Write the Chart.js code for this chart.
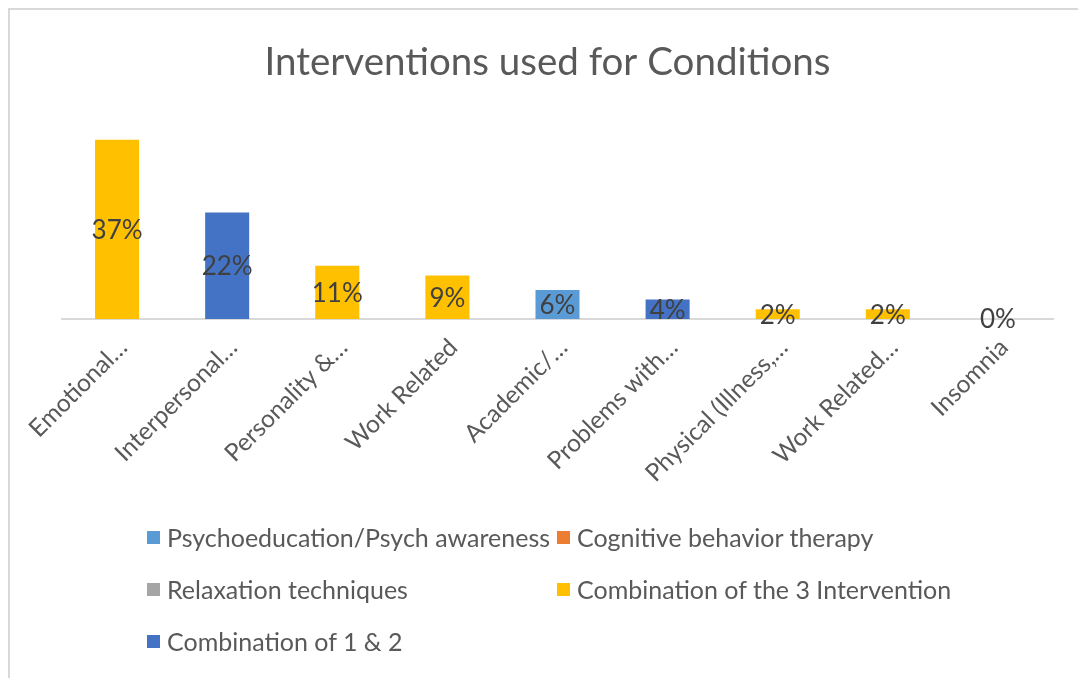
<!DOCTYPE html>
<html>
<head>
<meta charset="utf-8">
<script src="https://cdn.jsdelivr.net/npm/chart.js@4.4.1/dist/chart.umd.min.js"></script>
<style>
  html, body { margin: 0; padding: 0; background: #fff; }
  body { width: 1078px; height: 678px; position: relative; overflow: hidden; font-family: Lato, "Noto Sans", sans-serif; }
  #frame { position: absolute; left: 8px; top: 8px; width: 1090px; height: 700px; border: 2px solid #D9D9D9; box-sizing: border-box; }
  #wrap { position: absolute; left: 0; top: 0; width: 1078px; height: 500px; }
  #legend { position: absolute; left: 0; top: 0; width: 1078px; height: 678px; pointer-events: none; }
  .li { position: absolute; display: flex; align-items: center; font-size: 25px; color: #595959; white-space: nowrap; line-height: 1; }
  .sw { width: 13px; height: 13px; margin-right: 7px; flex: none; }
</style>
</head>
<body>
<div id="frame"></div>
<div id="wrap"><canvas id="c" width="1078" height="500"></canvas></div>
<div id="legend"></div>
<script>
// ---- data ----
const categories = ["Emotional…", "Interpersonal…", "Personality &…", "Work Related", "Academic/…", "Problems with…", "Physical (Illness,…", "Work Related…", "Insomnia"];
const seriesNames = ["Psychoeducation/Psych awareness", "Cognitive behavior therapy", "Relaxation techniques", "Combination of the 3 Intervention", "Combination of 1 & 2"];
const psychoeducation = [null, null, null, null, 6, null, null, null, null];
const cognitiveBehavior = [null, null, null, null, null, null, null, null, null];
const relaxation = [null, null, null, null, null, null, null, null, 0];
const combination3 = [37, null, 11, 9, null, null, 2, 2, null];
const combination12 = [null, 22, null, null, null, 4, null, null, null];
const seriesColors = ["#5B9BD5", "#ED7D31", "#A5A5A5", "#FFC000", "#4472C4"];
const yMax = 40;

const seriesData = [psychoeducation, cognitiveBehavior, relaxation, combination3, combination12];

const labelPlugin = {
  id: 'barLabels',
  afterDatasetsDraw(chart) {
    const ctx = chart.ctx;
    ctx.save();
    ctx.font = '26px Lato, "Noto Sans", sans-serif';
    ctx.fillStyle = '#404040';
    ctx.textAlign = 'center';
    ctx.textBaseline = 'middle';
    chart.data.datasets.forEach((ds, di) => {
      const meta = chart.getDatasetMeta(di);
      meta.data.forEach((el, i) => {
        const v = ds.data[i];
        if (v === null || v === undefined) return;
        const y = (el.y + el.base) / 2;
        ctx.fillText(v + '%', el.x, y + 1);
      });
    });
    ctx.restore();
  }
};

const chart = new Chart(document.getElementById('c'), {
  type: 'bar',
  data: {
    labels: categories,
    datasets: seriesData.map((d, i) => ({
      label: seriesNames[i],
      data: d,
      backgroundColor: seriesColors[i],
      borderWidth: 0,
      grouped: false,
      categoryPercentage: 1,
      barPercentage: 0.4,
      yAxisID: 'y'
    }))
  },
  options: {
    responsive: false,
    animation: false,
    layout: { padding: { left: 17, right: 0, top: 0, bottom: 0 } },
    plugins: {
      legend: { display: false },
      tooltip: { enabled: false },
      title: {
        display: true,
        text: 'Interventions used for Conditions',
        color: '#595959',
        font: { family: 'Lato, "Noto Sans", sans-serif', size: 38.5, weight: 'normal', lineHeight: 1.2 },
        padding: { top: 39, bottom: 40 }
      }
    },
    scales: {
      x: {
        grid: { display: false },
        border: { display: true, color: '#D9D9D9', width: 2 },
        ticks: {
          color: '#595959',
          font: { family: 'Lato, "Noto Sans", sans-serif', size: 24.5 },
          minRotation: 45,
          maxRotation: 45,
          autoSkip: false,
          padding: 6,
          labelOffset: 6
        },
        afterFit(scale) { scale.height = 500 - 319; }
      },
      y: {
        display: true,
        position: 'left',
        min: 0,
        max: yMax,
        grid: { display: false },
        border: { display: false },
        ticks: { display: false },
        afterFit(scale) { scale.width = 62 - 17; }
      },
      yr: {
        display: true,
        position: 'right',
        min: 0,
        max: yMax,
        grid: { display: false },
        border: { display: false },
        ticks: { display: false },
        afterFit(scale) { scale.width = 25; }
      }
    }
  },
  plugins: [labelPlugin]
});

// ---- legend ----
const legendPos = [
  { x: 147, y: 537 }, { x: 557, y: 537 },
  { x: 147, y: 589 }, { x: 557, y: 589 },
  { x: 147, y: 641 }
];
const lg = document.getElementById('legend');
seriesNames.forEach((n, i) => {
  const d = document.createElement('div');
  d.className = 'li';
  d.style.left = legendPos[i].x + 'px';
  d.style.top = (legendPos[i].y - 14) + 'px';
  d.style.height = '28px';
  d.innerHTML = '<span class="sw" style="background:' + seriesColors[i] + '"></span><span>' + n + '</span>';
  lg.appendChild(d);
});
</script>
</body>
</html>
